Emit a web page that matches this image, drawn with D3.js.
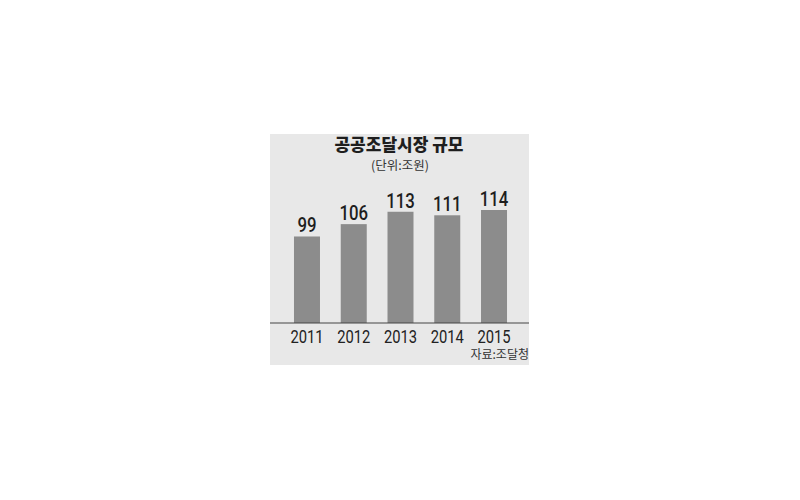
<!DOCTYPE html>
<html>
<head>
<meta charset="utf-8">
<script src="https://cdn.jsdelivr.net/npm/d3@7"></script>
<style>
html,body{margin:0;padding:0;background:#fff;}
svg{display:block;}
</style>
</head>
<body>
<svg id="chart" width="800" height="500"></svg>
<script>
const years = ["2011", "2012", "2013", "2014", "2015"];
const values = [99, 106, 113, 111, 114];
const titleText = "공공조달시장 규모";
const unitText = "(단위:조원)";
const sourceText = "자료:조달청";

const svg = d3.select("#chart");
const numFont = "Roboto,'Liberation Sans',sans-serif";
const krFont = "'Noto Sans CJK KR','Noto Sans',sans-serif";

// panel
svg.append("rect").attr("x", 270).attr("y", 134).attr("width", 259).attr("height", 231)
  .attr("fill", "#e8e8e8");

const x = d3.scaleBand().domain(years).range([283.6, 517.4])
  .paddingInner(0.444).paddingOuter(0.222);
const y = d3.scaleLinear().domain([50, 114]).range([323, 210]);

const data = years.map((yr, i) => ({year: yr, value: values[i]}));

svg.append("g").selectAll("rect").data(data).join("rect")
  .attr("x", d => x(d.year))
  .attr("width", x.bandwidth())
  .attr("y", d => y(d.value))
  .attr("height", d => y.range()[0] - y(d.value))
  .attr("fill", "#8c8c8c");

svg.append("g").selectAll("text").data(data).join("text")
  .attr("transform", d => `translate(${x(d.year) + x.bandwidth() / 2},${y(d.value) - 4}) scale(0.8,1)`)
  .attr("text-anchor", "middle")
  .attr("font-family", numFont)
  .attr("font-size", 21)
  .attr("font-weight", 500)
  .attr("fill", "#1e1e1e")
  .text(d => d.value);

// axis
const axis = d3.axisBottom(x).tickSize(0).tickPadding(0);
const ag = svg.append("g").attr("transform", "translate(0,323)").call(axis);
ag.select(".domain").remove();
ag.selectAll(".tick text")
  .attr("y", 20.5).attr("dy", null)
  .attr("transform", "scale(0.82,1)")
  .attr("font-family", numFont).attr("font-size", 18)
  .attr("fill", "#222");
svg.append("line").attr("x1", 270).attr("x2", 529).attr("y1", 323).attr("y2", 323)
  .attr("stroke", "#444").attr("stroke-width", 1);

// titles
svg.append("text").attr("x", 399).attr("y", 151).attr("text-anchor", "middle")
  .attr("font-family", krFont).attr("font-weight", 900).attr("font-size", 17)
  .attr("fill", "#1e1e1e").text(titleText);
svg.append("text").attr("x", 400).attr("y", 170).attr("text-anchor", "middle")
  .attr("font-family", krFont).attr("font-size", 12.5)
  .attr("fill", "#333").text(unitText);
svg.append("text").attr("x", 529).attr("y", 359).attr("text-anchor", "end")
  .attr("font-family", krFont).attr("font-size", 12)
  .attr("fill", "#333").text(sourceText);
</script>
</body>
</html>
